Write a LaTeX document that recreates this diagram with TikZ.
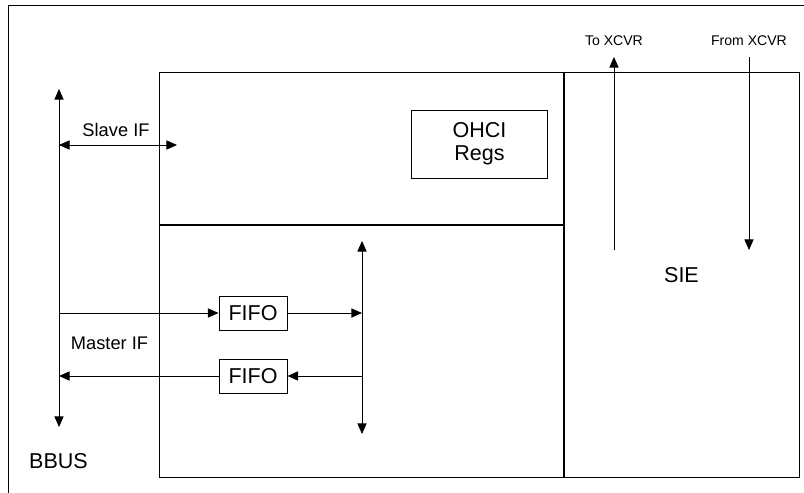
\documentclass[tikz,border=0pt]{standalone}
\usepackage{fontspec}
\setmainfont{Liberation Sans}
\usetikzlibrary{arrows.meta}

\begin{document}
\begin{tikzpicture}[
    x=0.025cm, y=-0.025cm,
    line width=0.7pt,
    region/.style={draw, rectangle, inner sep=0pt},
    box/.style={draw, rectangle, minimum width=1.7cm, minimum height=0.85cm, font=\fontsize{15.3}{16.5}\selectfont},
    big/.style={font=\fontsize{15.3}{16.5}\selectfont},
    mid/.style={font=\fontsize{13}{15}\selectfont},
    small/.style={font=\fontsize{10}{12}\selectfont},
    arr/.style={-{Triangle[length=7.5pt, width=6.5pt]}},
    darr/.style={{Triangle[length=7.5pt, width=6.5pt]}-{Triangle[length=7.5pt, width=6.5pt]}}
]
\useasboundingbox (0,0) rectangle (804,493);
\draw (8,493) -- (8,5) -- (804,5);

\node[region, minimum width=10.1cm, minimum height=3.8cm] (slavepart) at (362,149) {};
\node[region, minimum width=10.1cm, minimum height=6.3cm] (masterpart) at (362,351) {};
\node[region, big, minimum width=5.875cm, minimum height=10.1cm] (sie) at (681.5,275) {SIE};
\node[box, minimum width=3.375cm, minimum height=1.7cm, align=center] (ohci) at (479.5,144) {OHCI\\Regs};
\node[box] (fifoin) at (253,313) {FIFO};
\node[box] (fifoout) at (253,376) {FIFO};

\node[mid] (slave) at (116,130) {Slave IF};
\node[mid] (master) at (109.5,343.5) {Master IF};
\node[big] (bbus) at (58.5,461) {BBUS};
\node[small] (toxcvr) at (614,41) {To XCVR};
\node[small] (fromxcvr) at (749,41) {From XCVR};

\coordinate (bbtop) at (59,89);
\coordinate (bbbot) at (59,427);
\coordinate (slvleft) at (59,145);
\coordinate (slvright) at (177,145);
\coordinate (mstin) at (59,313);
\coordinate (mstout) at (59,376);
\coordinate (bustop) at (362,241);
\coordinate (busbot) at (362,434);
\coordinate (busin) at (362,313);
\coordinate (busout) at (362,376);
\coordinate (txtop) at (614,57);
\coordinate (txbot) at (614,250);
\coordinate (rxtop) at (749,57);
\coordinate (rxbot) at (749,250);

\draw[darr] (bbbot) -- (bbtop);
\draw[darr] (slvleft) -- (slvright);
\draw[arr] (mstin) -- (fifoin);
\draw[arr] (fifoin) -- (busin);
\draw[darr] (busbot) -- (bustop);
\draw[arr] (busout) -- (fifoout);
\draw[arr] (fifoout) -- (mstout);
\draw[arr] (txbot) -- (txtop);
\draw[arr] (rxtop) -- (rxbot);
\end{tikzpicture}
\end{document}
